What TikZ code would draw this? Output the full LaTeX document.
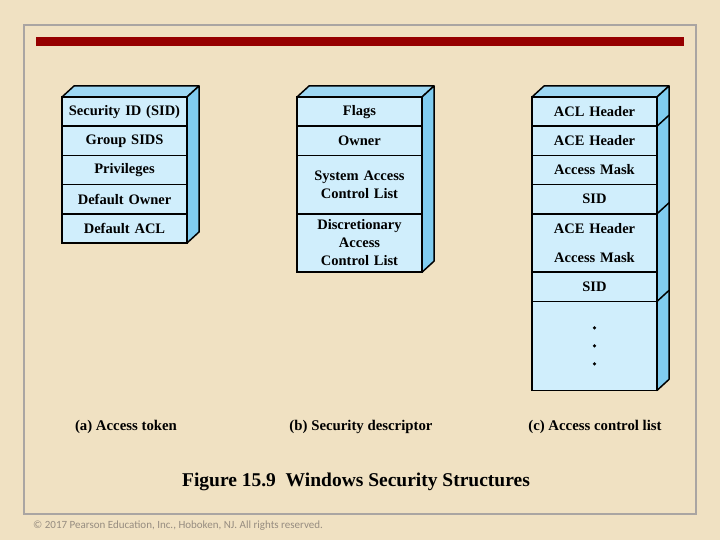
\documentclass[tikz,border=0pt]{standalone}
\usepackage{fontspec}
\setmainfont{Liberation Serif}
\newfontfamily\copyfont{Carlito}
\usetikzlibrary{positioning,calc}
\definecolor{parchment}{RGB}{240,225,194}
\definecolor{framegray}{RGB}{170,165,162}
\definecolor{barred}{RGB}{150,0,0}
\definecolor{facefront}{RGB}{208,238,252}
\definecolor{facetop}{RGB}{158,216,244}
\definecolor{faceside}{RGB}{128,204,240}
\definecolor{copygray}{RGB}{150,140,128}
\tikzset{
  fieldbox/.style={draw=black, fill=facefront, line width=1.5pt, outer sep=0pt, inner sep=0pt,
               minimum width=125pt, minimum height=29.2pt, text width=123pt, align=center,
               font=\fontsize{14.5}{18}\selectfont\bfseries},
  tallbox/.style={fieldbox, minimum height=58.4pt},
  topface/.style={draw=black, fill=facetop, line width=1.5pt, line join=round},
  sideface/.style={draw=black, fill=faceside, line width=1.5pt, line join=round},
  caption/.style={anchor=base, font=\fontsize{14.8}{16}\selectfont\bfseries},
}

\begin{document}
\begin{tikzpicture}[x=1pt, y=-1pt]
    % page, frame and bar
    \fill[parchment] (0,0) rectangle (720,540);
    \useasboundingbox (0,0) rectangle (720,540);
    \draw[framegray, line width=1.6pt] (24,25) rectangle (696,514);
    \fill[barred] (36,37) rectangle (684,46);

    % (a) access token
    \node[fieldbox, anchor=north west] (a1) at (62,97) {Security ID (SID)};
    \node[fieldbox, below=0pt of a1] (a2) {Group SIDS};
    \node[fieldbox, below=0pt of a2] (a3) {Privileges};
    \node[fieldbox, below=0pt of a3] (a4) {Default Owner};
    \node[fieldbox, below=0pt of a4] (a5) {Default ACL};
    \draw[topface] (a1.north west) -- ++(12,-11) -- ($(a1.north east)+(12,-11)$) -- (a1.north east) -- cycle;
    \draw[sideface] (a1.north east) -- ++(12,-11) -- ($(a5.south east)+(12,-11)$) -- (a5.south east) -- cycle;

    % (b) security descriptor
    \node[fieldbox, anchor=north west] (b1) at (297,97) {Flags};
    \node[fieldbox, below=0pt of b1] (b2) {Owner};
    \node[tallbox, below=0pt of b2] (b3) {System Access\\Control List};
    \node[tallbox, below=0pt of b3] (b4) {Discretionary\\Access\\Control List};
    \draw[topface] (b1.north west) -- ++(12,-11) -- ($(b1.north east)+(12,-11)$) -- (b1.north east) -- cycle;
    \draw[sideface] (b1.north east) -- ++(12,-11) -- ($(b4.south east)+(12,-11)$) -- (b4.south east) -- cycle;

    % (c) access control list
    \node[fieldbox, anchor=north west] (c1) at (532,97) {ACL Header};
    \node[fieldbox, below=0pt of c1] (c2) {ACE Header};
    \node[fieldbox, below=0pt of c2] (c3) {Access Mask};
    \node[fieldbox, below=0pt of c3] (c4) {SID};
    \node[tallbox, below=0pt of c4] (c5) {ACE Header\\[11pt]Access Mask};
    \node[fieldbox, below=0pt of c5] (c6) {SID};
    \node[fieldbox, minimum height=89pt, below=0pt of c6] (c7) {};
    \draw[topface] (c1.north west) -- ++(12,-11) -- ($(c1.north east)+(12,-11)$) -- (c1.north east) -- cycle;
    \draw[sideface] (c1.north east) -- ++(12,-11) -- ($(c7.south east)+(12,-11)$) -- (c7.south east) -- cycle;
    \foreach \n in {c1,c4,c6}
      \draw[line width=1.5pt] (\n.south east) -- ++(12,-11);
    \foreach \dy in {-18,0,18}
      \fill ($(c7.center)+(0,\dy)$) circle (1.8pt);

    % captions
    \node[caption] (capa) at (126,430) {(a) Access token};
    \node[caption] (capb) at (361,430) {(b) Security descriptor};
    \node[caption] (capc) at (595,430) {(c) Access control list};
    \node[anchor=base, font=\fontsize{19.5}{21}\selectfont\bfseries] (title) at (356,486)
      {Figure 15.9\ \ Windows Security Structures};
    \node[anchor=base west, inner sep=0pt, text=copygray, font=\copyfont\fontsize{11}{12}\selectfont]
      (copy) at (33,528) {\textcopyright\ 2017 Pearson Education, Inc., Hoboken, NJ. All rights reserved.};
\end{tikzpicture}
\end{document}
